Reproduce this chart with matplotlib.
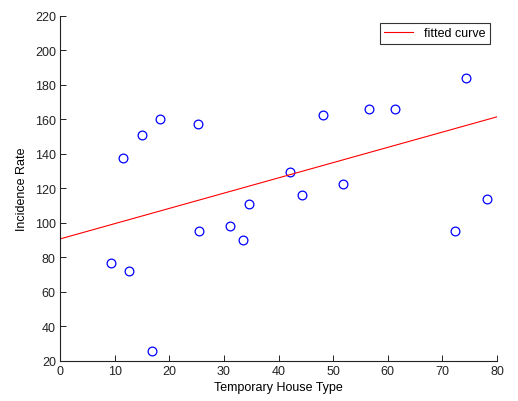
import matplotlib
matplotlib.use("Agg")
import matplotlib.pyplot as plt
import numpy as np

plt.rcParams['font.family'] = ['Liberation Sans', 'DejaVu Sans']

# Observed data
house_type = [9.3, 12.6, 16.8, 25.5, 31.2, 33.5, 34.6, 11.6, 15.0, 18.3,
              25.3, 42.1, 51.8, 48.2, 56.5, 61.3, 74.4, 44.3, 72.4, 78.1]
incidence = [76.8, 72.1, 25.8, 95.1, 98.0, 90.0, 110.7, 137.4, 150.9, 159.9,
             157.4, 129.6, 122.5, 162.7, 165.7, 165.7, 183.7, 115.9, 95.5, 113.6]

# Linear fit coefficients (intercept, slope)
fit_intercept = 90.7
fit_slope = 0.884

x_ticks = [0, 10, 20, 30, 40, 50, 60, 70, 80]
y_ticks = [20, 40, 60, 80, 100, 120, 140, 160, 180, 200, 220]

fig = plt.figure(figsize=(5.18, 4.02), dpi=100)
ax = fig.add_axes([60 / 518, 1 - 362 / 402, 437 / 518, 345.3 / 402])

ax.plot(house_type, incidence, 'o', markersize=6.3, markerfacecolor='none',
        markeredgecolor='#0000ff', markeredgewidth=0.9, linestyle='none')

xf = np.array([0, 80])
ax.plot(xf, fit_intercept + fit_slope * xf, color='#ff0000', linewidth=0.8,
        label='fitted curve')

ax.set_xlim(0, 80)
ax.set_ylim(20, 220)
ax.set_xticks(x_ticks)
ax.set_yticks(y_ticks)

for side in ('top', 'right'):
    ax.spines[side].set_visible(False)
for side in ('left', 'bottom'):
    ax.spines[side].set_linewidth(0.8)
    ax.spines[side].set_color('#222222')

ax.tick_params(direction='in', length=4, width=0.7, labelsize=9,
               colors='#222222', pad=3)

ax.set_xlabel('Temporary House Type', fontsize=9, labelpad=3)
ax.set_ylabel('Incidence Rate', fontsize=9, labelpad=5)

leg = ax.legend(loc='upper right', fontsize=9, frameon=True, fancybox=False,
                edgecolor='black', handlelength=2.3, handletextpad=0.9,
                borderpad=0.35, bbox_to_anchor=(0.998, 0.997))
leg.get_frame().set_linewidth(0.8)

fig.savefig('out.png', dpi=100)
